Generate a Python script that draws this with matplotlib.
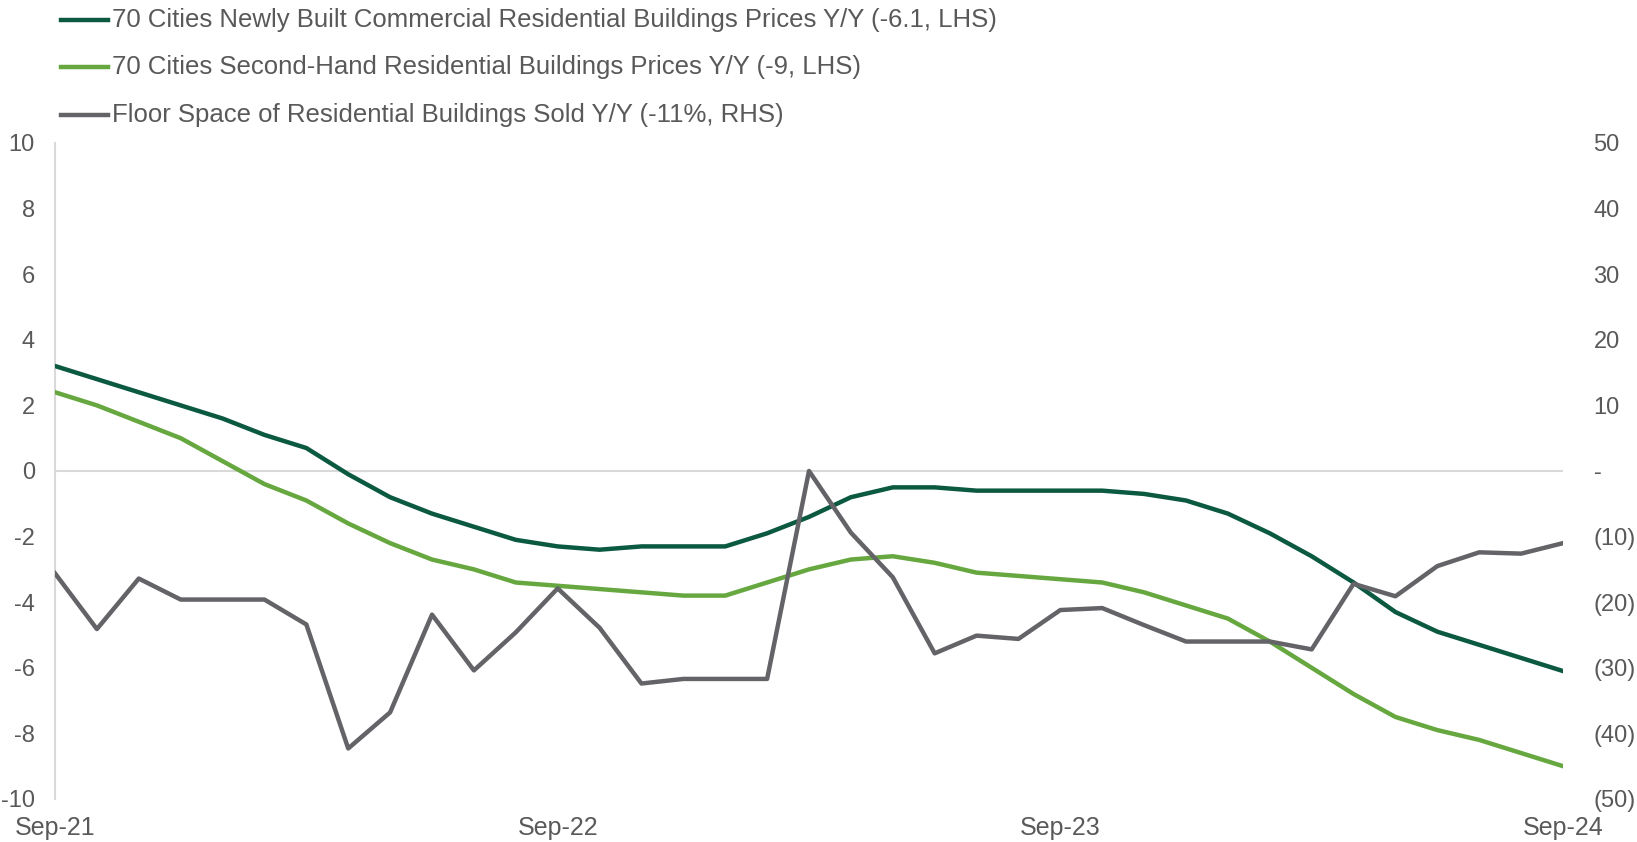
import numpy as np
import matplotlib
matplotlib.use('Agg')
import matplotlib.pyplot as plt
from matplotlib.lines import Line2D
from matplotlib.ticker import FuncFormatter, MultipleLocator

plt.rcParams['font.family'] = ['Liberation Sans', 'DejaVu Sans']

# Monthly series, Sep-21 .. Sep-24
months = ['Sep-21', 'Oct-21', 'Nov-21', 'Dec-21', 'Jan-22', 'Feb-22', 'Mar-22', 'Apr-22',
          'May-22', 'Jun-22', 'Jul-22', 'Aug-22', 'Sep-22', 'Oct-22', 'Nov-22', 'Dec-22',
          'Jan-23', 'Feb-23', 'Mar-23', 'Apr-23', 'May-23', 'Jun-23', 'Jul-23', 'Aug-23',
          'Sep-23', 'Oct-23', 'Nov-23', 'Dec-23', 'Jan-24', 'Feb-24', 'Mar-24', 'Apr-24',
          'May-24', 'Jun-24', 'Jul-24', 'Aug-24', 'Sep-24']

new_built = [3.2, 2.8, 2.4, 2.0, 1.6, 1.1, 0.7, -0.1, -0.8, -1.3, -1.7, -2.1, -2.3,
             -2.4, -2.3, -2.3, -2.3, -1.9, -1.4, -0.8, -0.5, -0.5, -0.6, -0.6, -0.6,
             -0.6, -0.7, -0.9, -1.3, -1.9, -2.6, -3.4, -4.3, -4.9, -5.3, -5.7, -6.1]

second_hand = [2.4, 2.0, 1.5, 1.0, 0.3, -0.4, -0.9, -1.6, -2.2, -2.7, -3.0, -3.4, -3.5,
               -3.6, -3.7, -3.8, -3.8, -3.4, -3.0, -2.7, -2.6, -2.8, -3.1, -3.2, -3.3,
               -3.4, -3.7, -4.1, -4.5, -5.2, -6.0, -6.8, -7.5, -7.9, -8.2, -8.6, -9.0]

floor_space = [-15.6, -24.1, -16.4, -19.6, -19.6, -19.6, -23.4, -42.3, -36.8, -21.9,
               -30.4, -24.6, -17.9, -23.9, -32.4, -31.7, -31.7, -31.7, 0.0, -9.4, -16.2,
               -27.8, -25.1, -25.6, -21.2, -20.9, -23.5, -26.0, -26.0, -26.0, -27.2,
               -17.2, -19.1, -14.5, -12.4, -12.6, -11.0]

labels = ['70 Cities Newly Built Commercial Residential Buildings Prices Y/Y (-6.1, LHS)',
          '70 Cities Second-Hand Residential Buildings Prices Y/Y (-9, LHS)',
          'Floor Space of Residential Buildings Sold Y/Y (-11%, RHS)']
colors = ['#0B5940', '#66A83F', '#636368']

txt = '#595959'
grid_c = '#D9D9D9'
fs_leg = 18.5
fs_y = 17
fs_x = 18

fig = plt.figure(figsize=(16.37, 8.42), dpi=100)
ax = fig.add_axes([0.0336, 0.0511, 0.9212, 0.7791])
ax2 = ax.twinx()

x = np.arange(len(months))
lw = 3.2
l1, = ax.plot(x, new_built, color=colors[0], lw=lw, solid_joinstyle='round', zorder=3)
l2, = ax.plot(x, second_hand, color=colors[1], lw=lw, solid_joinstyle='round', zorder=3)
l3, = ax2.plot(x, floor_space, color=colors[2], lw=lw, solid_joinstyle='round', zorder=3)

ax.set_xlim(0, len(months) - 1)
ax.set_ylim(-10, 10)
ax2.set_ylim(-50, 50)
ax.yaxis.set_major_locator(MultipleLocator(2))
ax2.yaxis.set_major_locator(MultipleLocator(10))

ax.axhline(0, color=grid_c, lw=1.5, zorder=1)

for a in (ax, ax2):
    for s in a.spines.values():
        s.set_visible(False)
ax.spines['left'].set_visible(True)
ax.spines['left'].set_color(grid_c)
ax.spines['left'].set_linewidth(1.5)

ax.yaxis.set_major_formatter(FuncFormatter(lambda v, p: f'{v:.0f}'.replace('\u2212', '-')))


def paren(v, p):
    if abs(v) < 1e-9:
        return '-'
    if v < 0:
        return f'({abs(v):.0f})'
    return f'{v:.0f}'


ax2.yaxis.set_major_formatter(FuncFormatter(paren))

tick_idx = [0, 12, 24, 36]
ax.set_xticks(tick_idx)
ax.set_xticklabels([months[i] for i in tick_idx])

ax.tick_params(axis='y', length=0, pad=14.5, labelsize=fs_y, labelcolor=txt)
ax2.tick_params(axis='y', length=0, pad=22, labelsize=fs_y, labelcolor=txt)
ax.tick_params(axis='x', length=0, pad=12, labelsize=fs_x, labelcolor=txt)

# legend rows at top left
W, H = fig.get_size_inches() * fig.dpi
rows_y = [20, 67, 115]
for line, lab, yy in zip((l1, l2, l3), labels, rows_y):
    yf = 1 - yy / H
    fig.add_artist(Line2D([61 / W, 108 / W], [yf, yf], color=line.get_color(),
                          lw=lw, transform=fig.transFigure))
    fig.text(112 / W, yf, lab, fontsize=fs_leg, color=txt, va='center', ha='left')

fig.savefig('out.png', dpi=100)
